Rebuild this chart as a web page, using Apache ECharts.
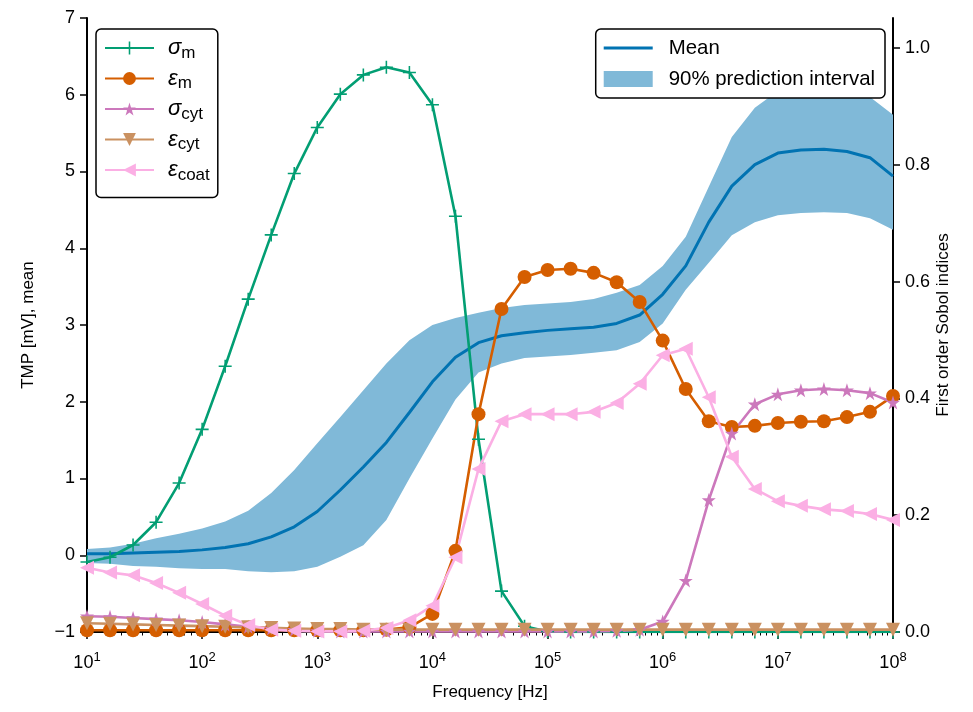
<!DOCTYPE html>
<html><head><meta charset="utf-8">
<script src="https://cdn.jsdelivr.net/npm/echarts@6/dist/echarts.min.js"></script>
<style>html,body{margin:0;padding:0;background:#fff}#c{width:973px;height:712px}</style>
</head><body><div id="c"></div>
<script>
// Frequencies (Hz), 5 samples per decade
const freq = [10, 15.85, 25.12, 39.81, 63.10,
  100, 158.5, 251.2, 398.1, 631.0,
  1000, 1585, 2512, 3981, 6310,
  10000, 15849, 25119, 39811, 63096,
  100000, 158489, 251189, 398107, 630957,
  1000000, 1584893, 2511886, 3981072, 6309573,
  10000000, 15848932, 25118864, 39810717, 63095734,
  100000000];

// TMP [mV] (left axis)
const meanTMP = [0.02, 0.02, 0.03, 0.04, 0.05, 0.07, 0.10, 0.15, 0.24, 0.37,
  0.57, 0.85, 1.15, 1.47, 1.86, 2.26, 2.58, 2.77, 2.86, 2.90,
  2.93, 2.95, 2.97, 3.02, 3.13, 3.40, 3.77, 4.34, 4.81, 5.09,
  5.24, 5.28, 5.29, 5.26, 5.18, 4.94];
const upperTMP = [0.08, 0.10, 0.15, 0.22, 0.28, 0.35, 0.44, 0.58, 0.81, 1.11,
  1.46, 1.80, 2.15, 2.50, 2.80, 3.00, 3.09, 3.16, 3.22, 3.26,
  3.28, 3.30, 3.34, 3.42, 3.52, 3.77, 4.15, 4.80, 5.45, 5.83,
  6.05, 6.15, 6.18, 6.15, 5.97, 5.74];
const lowerTMP = [-0.10, -0.11, -0.14, -0.15, -0.17, -0.18, -0.18, -0.21, -0.22, -0.21,
  -0.15, -0.02, 0.13, 0.46, 1.00, 1.52, 2.03, 2.38, 2.50, 2.57,
  2.59, 2.61, 2.64, 2.67, 2.78, 3.02, 3.46, 3.81, 4.17, 4.34,
  4.43, 4.46, 4.47, 4.46, 4.39, 4.24];

// First order Sobol indices (right axis)
const sigmaM = [0.120, 0.128, 0.149, 0.188, 0.255, 0.347, 0.455, 0.570, 0.680, 0.785,
  0.864, 0.921, 0.954, 0.967, 0.958, 0.903, 0.712, 0.330, 0.070, 0.010,
  0.001, 0, 0, 0, 0, 0, 0, 0, 0, 0,
  0, 0, 0, 0, 0, 0];
const epsM = [0.003, 0.003, 0.003, 0.003, 0.003, 0.003, 0.003, 0.003, 0.003, 0.003,
  0.003, 0.003, 0.003, 0.004, 0.008, 0.031, 0.139, 0.373, 0.553, 0.608,
  0.620, 0.622, 0.615, 0.599, 0.565, 0.499, 0.416, 0.361, 0.351, 0.353,
  0.358, 0.360, 0.361, 0.368, 0.377, 0.404];
const sigmaCyt = [0.027, 0.026, 0.024, 0.022, 0.020, 0.017, 0.013, 0.009, 0.006, 0.004,
  0.002, 0.001, 0.001, 0.001, 0.001, 0.001, 0.001, 0.001, 0.001, 0.001,
  0.001, 0.001, 0.001, 0.002, 0.004, 0.018, 0.088, 0.226, 0.340, 0.390,
  0.407, 0.414, 0.416, 0.414, 0.409, 0.393];
const epsCyt = [0.015, 0.014, 0.013, 0.012, 0.011, 0.010, 0.009, 0.008, 0.007, 0.006,
  0.005, 0.005, 0.004, 0.004, 0.004, 0.004, 0.004, 0.004, 0.004, 0.004,
  0.004, 0.004, 0.004, 0.004, 0.004, 0.004, 0.004, 0.004, 0.004, 0.004,
  0.004, 0.004, 0.004, 0.004, 0.004, 0.004];
const epsCoat = [0.110, 0.102, 0.097, 0.084, 0.067, 0.048, 0.028, 0.012, 0.004, 0.002,
  0.001, 0.001, 0.002, 0.007, 0.020, 0.045, 0.128, 0.279, 0.361, 0.373,
  0.373, 0.373, 0.377, 0.392, 0.425, 0.474, 0.485, 0.402, 0.300, 0.245,
  0.224, 0.216, 0.210, 0.207, 0.202, 0.192];

// Axis ticks
const xMajorTicks = [10, 100, 1000, 10000, 100000, 1000000, 10000000, 100000000];
const xMinorTicks = [20,30,40,50,60,70,80,90, 200,300,400,500,600,700,800,900,
  2000,3000,4000,5000,6000,7000,8000,9000, 20000,30000,40000,50000,60000,70000,80000,90000,
  200000,300000,400000,500000,600000,700000,800000,900000,
  2000000,3000000,4000000,5000000,6000000,7000000,8000000,9000000,
  20000000,30000000,40000000,50000000,60000000,70000000,80000000,90000000];
const leftTicks = [-1, 0, 1, 2, 3, 4, 5, 6, 7];
const rightTicks = [0, 0.2, 0.4, 0.6, 0.8, 1.0];

const FONT = '"Liberation Sans", Arial, sans-serif';
const C = {blue:'#0173B2', band:'#80B9D8', green:'#029E73', orange:'#D55E00', purple:'#CC78BC', brown:'#CA9161', pink:'#FBAFE4'};

const plusPath = 'path://M0,4.4H10V5.6H0Z M4.4,0H5.6V10H4.4Z';
const starPath = 'path://M100,0L122.45,69.1L195.1,69.1L136.3,111.8L158.8,180.9L100,138.2L41.2,180.9L63.7,111.8L4.9,69.1L77.55,69.1Z';

const pairs = arr => freq.map((f, i) => [f, arr[i]]);
const labels = {
  sigma_m: '{g|σ}{s|m}', eps_m: '{g|ε}{s|m}', sigma_cyt: '{g|σ}{s|cyt}',
  eps_cyt: '{g|ε}{s|cyt}', eps_coat: '{g|ε}{s|coat}'
};

function sobol(name, arr, color, symbol, size, rot) {
  return {
    name, type: 'line', xAxisIndex: 0, yAxisIndex: 1, data: pairs(arr),
    symbol, symbolSize: size, symbolRotate: rot || 0, showAllSymbol: true,
    lineStyle: {color, width: 2.6}, itemStyle: {color, borderColor: color, borderWidth: 0},
    z: 5, animation: false
  };
}

const chart = echarts.init(document.getElementById('c'), null, {renderer: 'canvas'});
chart.setOption({
  animation: false,
  textStyle: {fontFamily: FONT},
  grid: {left: 87, right: 80, top: 18, bottom: 80},
  xAxis: [{
    type: 'log', logBase: 10, min: 10, max: 1e8,
    name: 'Frequency [Hz]', nameLocation: 'middle', nameGap: 52,
    nameTextStyle: {fontSize: 17, color: '#000', fontFamily: FONT},
    axisLine: {onZero: false, lineStyle: {color: '#000', width: 2}},
    axisTick: {length: 7, lineStyle: {color: '#000', width: 1.5}, customValues: xMajorTicks},
    splitLine: {show: false},
    axisLabel: {
      customValues: xMajorTicks, margin: 19,
      formatter: v => '{b|10}{s|' + Math.round(Math.log10(v)) + '}',
      rich: {b: {fontSize: 18, color: '#000', fontFamily: FONT},
             s: {fontSize: 13, color: '#000', fontFamily: FONT, padding: [0, 0, 12, 0]}}
    }
  }, {
    type: 'log', logBase: 10, min: 10, max: 1e8, position: 'bottom',
    axisLine: {show: false, onZero: false}, axisLabel: {show: false}, splitLine: {show: false},
    axisTick: {length: 3.5, lineStyle: {color: '#000', width: 1}, customValues: xMinorTicks}
  }],
  yAxis: [{
    type: 'value', min: -1, max: 7, interval: 1, position: 'left',
    name: 'TMP [mV], mean', nameLocation: 'middle', nameGap: 50, nameRotate: 90, nameMoveOverlap: false,
    nameTextStyle: {fontSize: 17, color: '#000', fontFamily: FONT},
    axisLine: {show: true, onZero: false, lineStyle: {color: '#000', width: 2}},
    axisTick: {show: true, length: 7, lineStyle: {color: '#000', width: 1.5}},
    splitLine: {show: false},
    axisLabel: {fontSize: 18, color: '#000', margin: 12, fontFamily: FONT,
      formatter: v => (v < 0 ? '\u2212' + Math.abs(v) : String(v))}
  }, {
    type: 'value', min: 0, max: 1.0514, position: 'right',
    name: 'First order Sobol indices', nameLocation: 'middle', nameGap: 42, nameRotate: 90, nameMoveOverlap: false,
    nameTextStyle: {fontSize: 17, color: '#000', fontFamily: FONT},
    axisLine: {show: true, onZero: false, lineStyle: {color: '#000', width: 2}},
    axisTick: {show: true, length: 7, lineStyle: {color: '#000', width: 1.5}, customValues: rightTicks},
    splitLine: {show: false},
    axisLabel: {fontSize: 18, color: '#000', margin: 12, fontFamily: FONT,
      customValues: rightTicks, formatter: v => v.toFixed(1)}
  }],
  legend: [{
    orient: 'vertical', left: 96, top: 29,
    data: ['sigma_m', 'eps_m', 'sigma_cyt', 'eps_cyt', 'eps_coat'],
    backgroundColor: '#fff', borderColor: '#000', borderWidth: 1.5, borderRadius: 5,
    padding: [8, 8, 14, 8], itemGap: 6, itemWidth: 49, itemHeight: 16,
    formatter: n => labels[n],
    textStyle: {
      rich: {
        g: {fontSize: 22, fontStyle: 'italic', color: '#000', fontFamily: FONT, padding: [0, 0, 0, 9]},
        s: {fontSize: 17, color: '#000', fontFamily: FONT, padding: [10, 0, 0, 0]}
      }
    }, z: 10
  }, {
    orient: 'vertical', right: 88, top: 29,
    data: [{name: 'Mean', icon: 'path://M0,0H49V3H0Z'}, {name: '90% prediction interval', icon: 'rect'}],
    backgroundColor: '#fff', borderColor: '#000', borderWidth: 1.5, borderRadius: 5,
    padding: [9, 10, 9, 8], itemGap: 11, itemWidth: 49, itemHeight: 16,
    formatter: n => '{t|' + n + '}',
    textStyle: {rich: {t: {fontSize: 20.4, color: '#000', fontFamily: FONT, padding: [0, 0, 0, 11]}}}, z: 10
  }],
  series: [
    {name: '90% prediction interval', type: 'custom', xAxisIndex: 0, yAxisIndex: 0,
     data: freq.map((f, i) => [f, lowerTMP[i], upperTMP[i]]),
     encode: {x: 0, y: [1, 2]},
     itemStyle: {color: C.band},
     renderItem: (params, api) => {
       if (params.dataIndex !== 0) return null;
       const top = freq.map((f, i) => api.coord([f, upperTMP[i]]));
       const bot = freq.map((f, i) => api.coord([f, lowerTMP[i]])).reverse();
       return {type: 'polygon', shape: {points: top.concat(bot)}, style: {fill: C.band}};
     }, z: 1, silent: true},
    {name: 'Mean', type: 'line', xAxisIndex: 0, yAxisIndex: 0, data: pairs(meanTMP),
     symbol: 'none', lineStyle: {color: C.blue, width: 3}, itemStyle: {color: C.blue}, z: 2},
    sobol('sigma_m', sigmaM, C.green, plusPath, 13),
    sobol('eps_m', epsM, C.orange, 'circle', 14),
    sobol('sigma_cyt', sigmaCyt, C.purple, starPath, 14),
    sobol('eps_cyt', epsCyt, C.brown, 'triangle', 14, 180),
    sobol('eps_coat', epsCoat, C.pink, 'triangle', 14, 90)
  ]
});
</script>
</body></html>
